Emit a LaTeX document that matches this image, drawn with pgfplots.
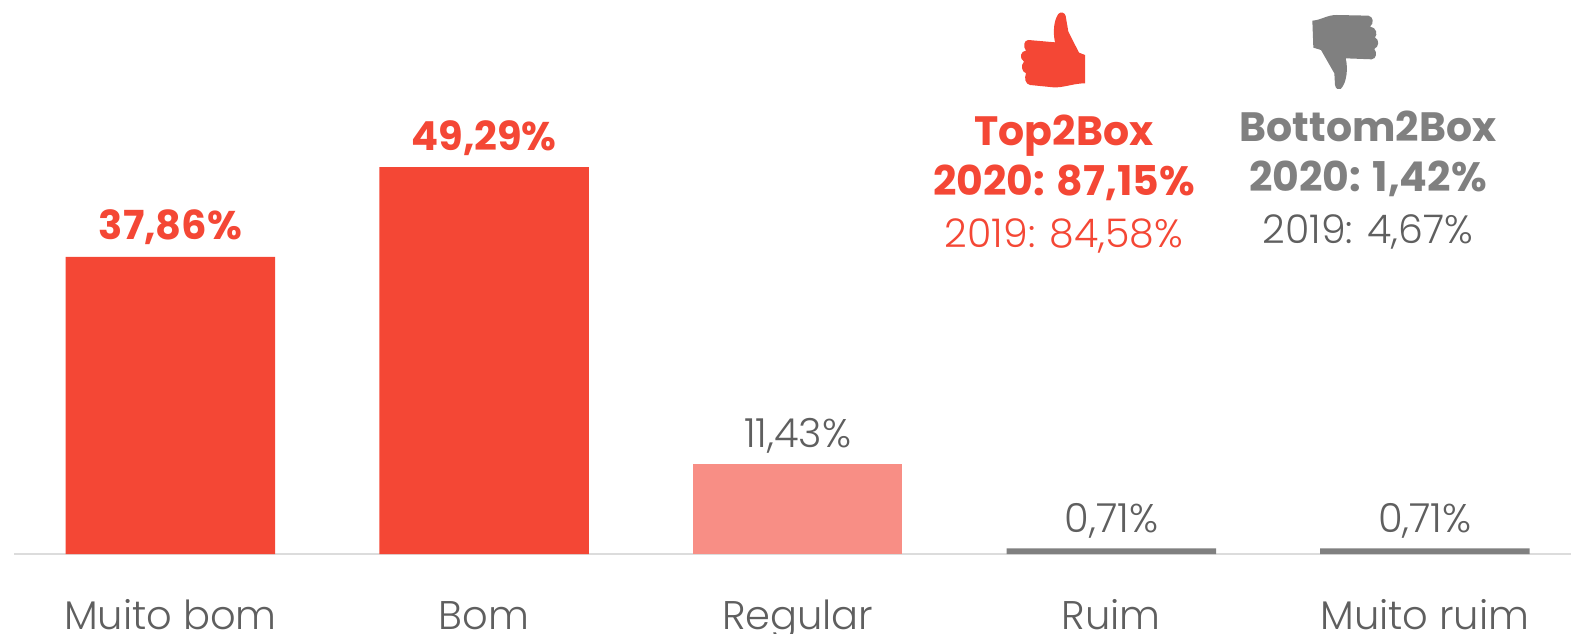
\documentclass[border=0pt]{standalone}
\usepackage{fontspec}
\setmainfont{Poppins}[UprightFont=* Light,BoldFont=* Bold]
\usepackage{pgfplots}
\pgfplotsset{compat=1.18}
\definecolor{redbar}{HTML}{F44735}
\definecolor{pinkbar}{HTML}{F88E85}
\definecolor{graybar}{HTML}{808080}
\definecolor{txtgray}{HTML}{5F5F5F}
\definecolor{axisgray}{HTML}{DCDCDC}
\begin{document}
\begin{tikzpicture}[x=1pt,y=1pt]
\path[use as bounding box] (0,-80) rectangle (1571,554);
\begin{axis}[
  at={(14pt,0pt)},anchor=south west,
  scale only axis,width=1557pt,height=554pt,
  xmin=-0.499,xmax=4.466,ymin=0,ymax=70.57,
  axis x line=bottom,axis line style={-,axisgray,line width=2.5pt},
  hide y axis,
  xtick={0,1,2,3,4},
  xticklabels={Muito bom,Bom,Regular,Ruim,Muito ruim},
  major tick length=0pt,
  xticklabel style={anchor=base,yshift=-75pt,font=\fontsize{40}{40}\selectfont,text=txtgray},
  ybar,bar width=209.5pt,bar shift=0pt,
  point meta=y,
  nodes near coords={\pgfmathprintnumber{\pgfplotspointmeta}\%},
  /pgf/number format/.cd,use comma,fixed,fixed zerofill,precision=2,assume math mode=true,
  /pgfplots/.cd,
  clip=false,
]
\addplot[draw=none,fill=redbar,
  every node near coord/.style={anchor=base,yshift=17pt,text=redbar,font=\fontsize{40}{40}\selectfont\bfseries}]
  coordinates {(0,37.86) (1,49.29)};
\addplot[draw=none,fill=pinkbar,
  every node near coord/.style={anchor=base,yshift=17pt,text=txtgray,font=\fontsize{40}{40}\selectfont}]
  coordinates {(2,11.43)};
\addplot[draw=none,fill=graybar,
  every node near coord/.style={anchor=base,yshift=16pt,text=txtgray,font=\fontsize{40}{40}\selectfont}]
  coordinates {(3,0.71) (4,0.71)};
\end{axis}
% side boxes
\node[anchor=base,text=redbar,font=\fontsize{41}{41}\selectfont\bfseries] at (1064,408) {Top2Box};
\node[anchor=base,text=redbar,font=\fontsize{41}{41}\selectfont\bfseries] at (1064,358) {2020: 87,15\%};
\node[anchor=base,text=redbar,font=\fontsize{39.5}{40}\selectfont] at (1064,306) {2019: 84,58\%};
\node[anchor=base,text=graybar,font=\fontsize{41}{41}\selectfont\bfseries] at (1368,412) {Bottom2Box};
\node[anchor=base,text=graybar,font=\fontsize{41}{41}\selectfont\bfseries] at (1368,362) {2020: 1,42\%};
\node[anchor=base,text=txtgray,font=\fontsize{39.5}{40}\selectfont] at (1368,310) {2019: 4,67\%};
% thumbs
\begin{scope}[shift={(1000,554)},x=0.3333pt,y=-0.3333pt]
\fill[redbar] (255,250) -- (255,165) -- (237,158) -- (205,95) -- (197,48)
  .. controls (195,38) and (182,33) .. (175,42)
  .. controls (162,60) and (158,95) .. (165,127)
  -- (85,120) .. controls (72,120) and (68,140) .. (78,152)
  .. controls (62,152) and (56,175) .. (72,185)
  .. controls (62,195) and (64,215) .. (78,220)
  .. controls (72,235) and (76,252) .. (90,255)
  -- (160,262) .. controls (190,264) and (220,250) .. (255,250) -- cycle;
\end{scope}
\begin{scope}[shift={(1295,549)},x=0.3333pt,y=-0.3333pt]
\fill[graybar] (52,47) .. controls (80,45) and (95,30) .. (125,30)
  -- (220,32) .. controls (235,34) and (238,55) .. (225,65)
  .. controls (245,66) and (248,90) .. (240,97)
  .. controls (254,105) and (252,125) .. (238,132)
  .. controls (247,142) and (244,162) .. (230,163)
  -- (152,160) .. controls (160,190) and (155,235) .. (137,252)
  .. controls (130,256) and (122,252) .. (120,240)
  -- (118,205) -- (78,135) -- (55,128) -- cycle;
\end{scope}
\end{tikzpicture}
\end{document}
